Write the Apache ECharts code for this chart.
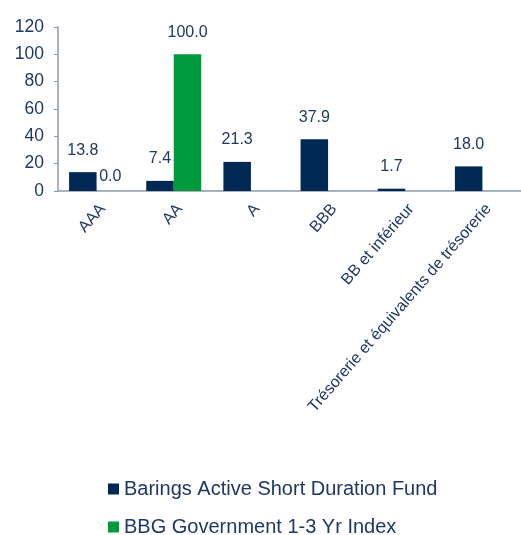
<!DOCTYPE html>
<html>
<head>
<meta charset="utf-8">
<script src="https://cdn.jsdelivr.net/npm/echarts@6/dist/echarts.min.js"></script>
<style>
  html, body { margin: 0; padding: 0; background: #fff; }
  #chart { width: 521px; height: 535px; }
</style>
</head>
<body>
<div id="chart"></div>
<script>
// 数据
const categories = ['AAA', 'AA', 'A', 'BBB', 'BB et inférieur', 'Trésorerie et équivalents de trésorerie']
const fundName = 'Barings Active Short Duration Fund'
const indexName = 'BBG Government 1-3 Yr Index'
const fundValues = [13.8, 7.4, 21.3, 37.9, 1.7, 18.0]
const indexValues = [0.0, 100.0, null, null, null, null]
const yTicks = { min: 0, max: 120, interval: 20 }

const textColor = '#1f3864'
const axisColor = '#8c9aa8'

const chart = echarts.init(document.getElementById('chart'))

const labelStyle = {
    show: true,
    position: 'top',
    distance: 14,
    color: textColor,
    fontSize: 16,
    fontFamily: 'Liberation Sans',
    formatter: p => p.value == null ? '' : p.value.toFixed(1)
}

// 零值标签贴近轴线
const withZeroLabel = arr => arr.map(v => v === 0 ? { value: v, label: { distance: 6 } } : v)

// 图例：两行，每行一个
const legendBase = {
    left: 108,
    itemWidth: 11,
    itemHeight: 11,
    padding: 0,
    icon: 'rect',
    textStyle: { color: textColor, fontSize: 20, fontFamily: 'Liberation Sans' }
}

const option = {
    backgroundColor: '#fff',
    animation: false,
    textStyle: { fontFamily: 'Liberation Sans' },
    grid: {
        left: 58,
        right: -9,
        top: 27,
        bottom: 344,
        containLabel: false
    },
    legend: [
        Object.assign({}, legendBase, { top: 479, data: [fundName] }),
        Object.assign({}, legendBase, { top: 517, data: [indexName] })
    ],
    xAxis: {
        type: 'category',
        data: categories,
        axisLine: { show: true, lineStyle: { color: axisColor, width: 1.5 } },
        axisTick: { show: false },
        axisLabel: {
            rotate: 49,
            interval: 0,
            margin: 10,
            verticalAlign: 'top',
            color: textColor,
            fontSize: 16
        }
    },
    yAxis: {
        type: 'value',
        min: yTicks.min,
        max: yTicks.max,
        interval: yTicks.interval,
        axisLine: { show: true, lineStyle: { color: axisColor, width: 1.5 } },
        axisTick: { show: true, length: 4, lineStyle: { color: axisColor } },
        splitLine: { show: false },
        axisLabel: { color: textColor, fontSize: 17.5, margin: 14 }
    },
    series: [
        {
            name: fundName,
            type: 'bar',
            barGap: '0%',
            barCategoryGap: '28.7%',
            itemStyle: { color: '#002855' },
            label: labelStyle,
            data: withZeroLabel(fundValues)
        },
        {
            name: indexName,
            type: 'bar',
            itemStyle: { color: '#009a3e' },
            label: labelStyle,
            data: withZeroLabel(indexValues)
        }
    ]
}

chart.setOption(option)
</script>
</body>
</html>
